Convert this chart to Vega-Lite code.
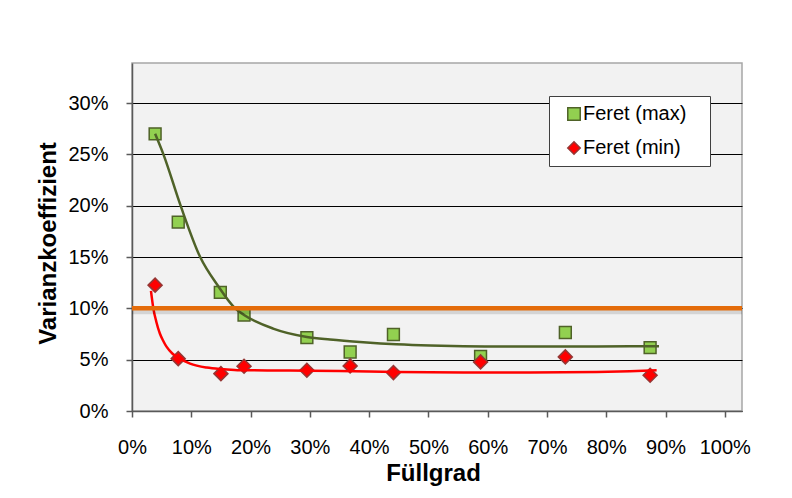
{
  "$schema": "https://vega.github.io/schema/vega-lite/v6.json",
  "width": 610,
  "height": 348,
  "autosize": {"type": "none"},
  "padding": {"left": 132, "top": 63, "right": 50, "bottom": 87},
  "background": "white",
  "config": {
    "font": "Liberation Sans",
    "view": {"fill": "#f2f2f2", "stroke": "#a6a6a6", "strokeWidth": 1.5},
    "legend": {
      "title": null, "orient": "none", "legendX": 417, "legendY": 33,
      "fillColor": "white", "strokeColor": "#404040", "padding": 8,
      "labelFontSize": 20, "labelColor": "#000", "labelFont": "Liberation Sans",
      "symbolSize": 155, "symbolStrokeWidth": 1.5, "rowPadding": 14,
      "symbolOffset": 7, "labelOffset": -1
    }
  },
  "datasets": {
    "punkte": [
      {"series": "Feret (max)", "fuellgrad": 0.039, "vk": 0.270},
      {"series": "Feret (max)", "fuellgrad": 0.078, "vk": 0.184},
      {"series": "Feret (max)", "fuellgrad": 0.149, "vk": 0.1155},
      {"series": "Feret (max)", "fuellgrad": 0.189, "vk": 0.0935},
      {"series": "Feret (max)", "fuellgrad": 0.295, "vk": 0.0715},
      {"series": "Feret (max)", "fuellgrad": 0.368, "vk": 0.0575},
      {"series": "Feret (max)", "fuellgrad": 0.441, "vk": 0.0745},
      {"series": "Feret (max)", "fuellgrad": 0.588, "vk": 0.0532},
      {"series": "Feret (max)", "fuellgrad": 0.731, "vk": 0.0765},
      {"series": "Feret (max)", "fuellgrad": 0.874, "vk": 0.0618},
      {"series": "Feret (min)", "fuellgrad": 0.039, "vk": 0.1226},
      {"series": "Feret (min)", "fuellgrad": 0.078, "vk": 0.051},
      {"series": "Feret (min)", "fuellgrad": 0.150, "vk": 0.0364},
      {"series": "Feret (min)", "fuellgrad": 0.189, "vk": 0.0436},
      {"series": "Feret (min)", "fuellgrad": 0.295, "vk": 0.0397},
      {"series": "Feret (min)", "fuellgrad": 0.368, "vk": 0.0439},
      {"series": "Feret (min)", "fuellgrad": 0.441, "vk": 0.0374},
      {"series": "Feret (min)", "fuellgrad": 0.588, "vk": 0.0478},
      {"series": "Feret (min)", "fuellgrad": 0.731, "vk": 0.0527},
      {"series": "Feret (min)", "fuellgrad": 0.874, "vk": 0.0348}
    ],
    "trendMax": [
      {"fuellgrad": 0.039, "vk": 0.270},
      {"fuellgrad": 0.053, "vk": 0.250},
      {"fuellgrad": 0.082, "vk": 0.200},
      {"fuellgrad": 0.115, "vk": 0.150},
      {"fuellgrad": 0.145, "vk": 0.122},
      {"fuellgrad": 0.174, "vk": 0.100},
      {"fuellgrad": 0.189, "vk": 0.0936},
      {"fuellgrad": 0.238, "vk": 0.0803},
      {"fuellgrad": 0.295, "vk": 0.0721},
      {"fuellgrad": 0.334, "vk": 0.0696},
      {"fuellgrad": 0.390, "vk": 0.067},
      {"fuellgrad": 0.446, "vk": 0.065},
      {"fuellgrad": 0.503, "vk": 0.0637},
      {"fuellgrad": 0.559, "vk": 0.063},
      {"fuellgrad": 0.615, "vk": 0.0628},
      {"fuellgrad": 0.727, "vk": 0.0628},
      {"fuellgrad": 0.840, "vk": 0.063},
      {"fuellgrad": 0.889, "vk": 0.063}
    ],
    "trendMin": [
      {"fuellgrad": 0.032, "vk": 0.117},
      {"fuellgrad": 0.036, "vk": 0.100},
      {"fuellgrad": 0.041, "vk": 0.087},
      {"fuellgrad": 0.047, "vk": 0.0755},
      {"fuellgrad": 0.053, "vk": 0.068},
      {"fuellgrad": 0.0585, "vk": 0.0624},
      {"fuellgrad": 0.068, "vk": 0.056},
      {"fuellgrad": 0.078, "vk": 0.052},
      {"fuellgrad": 0.098, "vk": 0.0462},
      {"fuellgrad": 0.126, "vk": 0.0423},
      {"fuellgrad": 0.155, "vk": 0.0407},
      {"fuellgrad": 0.182, "vk": 0.0397},
      {"fuellgrad": 0.266, "vk": 0.0394},
      {"fuellgrad": 0.350, "vk": 0.039},
      {"fuellgrad": 0.446, "vk": 0.038},
      {"fuellgrad": 0.559, "vk": 0.0374},
      {"fuellgrad": 0.671, "vk": 0.0374},
      {"fuellgrad": 0.784, "vk": 0.038},
      {"fuellgrad": 0.840, "vk": 0.0388},
      {"fuellgrad": 0.885, "vk": 0.0397}
    ],
    "grenze": [{"grenzwert": 0.10}]
  },
  "layer": [
    {
      "data": {"name": "punkte"},
      "transform": [{"filter": "datum.series === 'Feret (max)'"}],
      "mark": {"type": "point", "filled": true, "opacity": 1, "strokeWidth": 1.5, "size": 140},
      "encoding": {
        "x": {
          "field": "fuellgrad", "type": "quantitative",
          "scale": {"domain": [0, 1.029], "nice": false, "zero": false},
          "axis": {
            "values": [0, 0.1, 0.2, 0.3, 0.4, 0.5, 0.6, 0.7, 0.8, 0.9, 1.0],
            "format": ".0%", "grid": false,
            "domainColor": "#595959", "domainWidth": 1.5,
            "tickColor": "#595959", "tickWidth": 1.5, "tickSize": 6,
            "labelFontSize": 20, "labelColor": "#000", "labelBaseline": "alphabetic",
            "labelPadding": 36, "labelFlush": false, "labelOverlap": false,
            "title": "Füllgrad", "titleFontSize": 24, "titleFontWeight": "bold", "titleColor": "#000",
            "titleX": 301, "titleY": 69, "titleBaseline": "alphabetic", "titleAlign": "center"
          }
        },
        "y": {
          "field": "vk", "type": "quantitative",
          "scale": {"domain": [0, 0.339], "nice": false},
          "axis": {
            "values": [0, 0.05, 0.1, 0.15, 0.2, 0.25, 0.3],
            "format": ".0%", "grid": true, "gridColor": "#000", "gridWidth": 1,
            "domainColor": "#595959", "domainWidth": 1.5,
            "tickColor": "#595959", "tickWidth": 1.5, "tickSize": 6,
            "labelFontSize": 20, "labelColor": "#000", "labelPadding": 18,
            "labelOverlap": false,
            "title": "Varianzkoeffizient", "titleFontSize": 24, "titleFontWeight": "bold", "titleColor": "#000",
            "titleAngle": -90, "titleX": -76.5, "titleY": 180, "titleBaseline": "alphabetic", "titleAlign": "center"
          }
        },
        "shape": {
          "field": "series", "type": "nominal",
          "scale": {"domain": ["Feret (max)", "Feret (min)"], "range": ["square", "diamond"]},
          "legend": {"labelExpr": "datum.label + '\u2800'"}
        },
        "fill": {
          "field": "series", "type": "nominal",
          "scale": {"domain": ["Feret (max)", "Feret (min)"], "range": ["#92d050", "#ff0000"]},
          "legend": {"labelExpr": "datum.label + '\u2800'"}
        },
        "stroke": {
          "field": "series", "type": "nominal",
          "scale": {"domain": ["Feret (max)", "Feret (min)"], "range": ["#4f6228", "#953735"]},
          "legend": {"labelExpr": "datum.label + '\u2800'"}
        }
      }
    },
    {
      "data": {"name": "punkte"},
      "transform": [{"filter": "datum.series === 'Feret (min)'"}],
      "mark": {"type": "point", "filled": true, "opacity": 1, "strokeWidth": 1.5, "size": 196},
      "encoding": {
        "x": {"field": "fuellgrad", "type": "quantitative"},
        "y": {"field": "vk", "type": "quantitative"},
        "shape": {"field": "series", "type": "nominal"},
        "fill": {"field": "series", "type": "nominal"},
        "stroke": {"field": "series", "type": "nominal"}
      }
    },
    {
      "data": {"name": "trendMax"},
      "mark": {"type": "line", "color": "#4f6228", "strokeWidth": 2.5, "interpolate": "monotone"},
      "encoding": {
        "x": {"field": "fuellgrad", "type": "quantitative"},
        "y": {"field": "vk", "type": "quantitative"}
      }
    },
    {
      "data": {"name": "trendMin"},
      "mark": {"type": "line", "color": "#ff0000", "strokeWidth": 2.5, "interpolate": "monotone"},
      "encoding": {
        "x": {"field": "fuellgrad", "type": "quantitative"},
        "y": {"field": "vk", "type": "quantitative"}
      }
    },
    {
      "data": {"name": "grenze"},
      "mark": {"type": "rule", "color": "#000", "opacity": 0.12, "strokeWidth": 6, "yOffset": 3},
      "encoding": {"y": {"field": "grenzwert", "type": "quantitative"}}
    },
    {
      "data": {"name": "grenze"},
      "mark": {"type": "rule", "color": "#e46c0a", "strokeWidth": 4.5},
      "encoding": {"y": {"field": "grenzwert", "type": "quantitative"}}
    }
  ]
}
